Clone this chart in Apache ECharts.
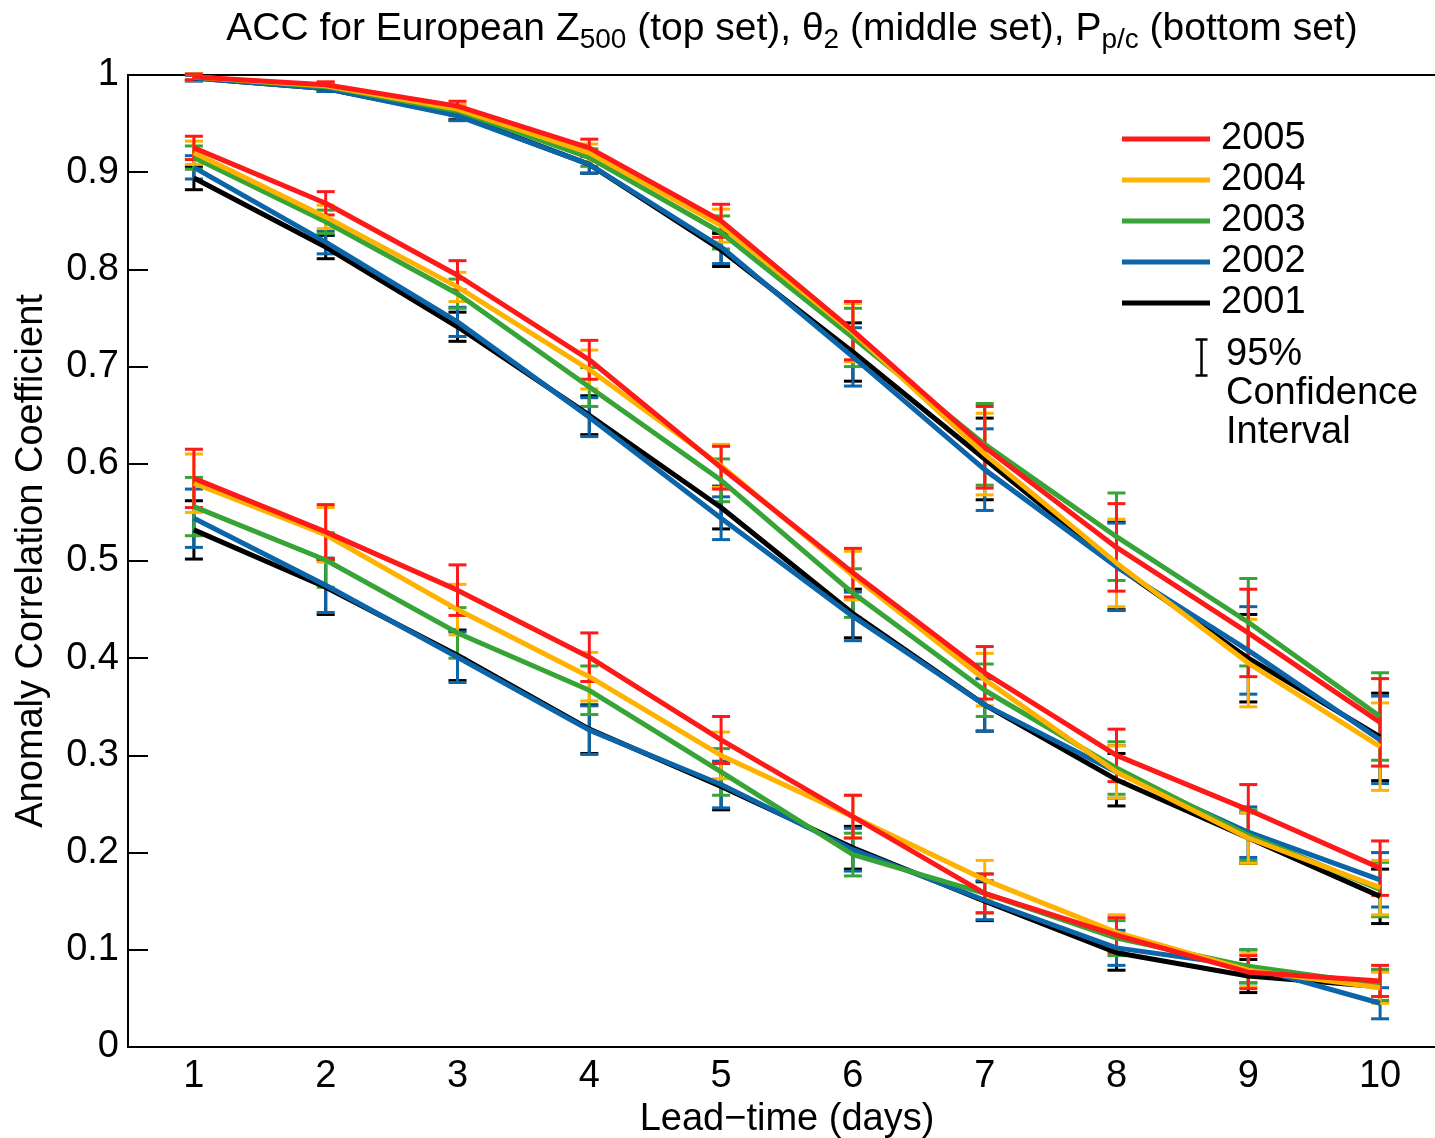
<!DOCTYPE html>
<html>
<head>
<meta charset="utf-8">
<script src="https://cdn.jsdelivr.net/npm/echarts@6/dist/echarts.min.js"></script>
<style>
  html, body { margin: 0; padding: 0; background: #fff; }
  #main { width: 1435px; height: 1138px; }
</style>
</head>
<body>
<div id="main"></div>
<script>
// lead time categories
var leadDays = ['1', '2', '3', '4', '5', '6', '7', '8', '9', '10'];
var years = ['2005', '2004', '2003', '2002', '2001'];
var yearColors = {
  '2005': '#ff1a1a',
  '2004': '#ffb300',
  '2003': '#36a436',
  '2002': '#0b65a8',
  '2001': '#000000'
};

// Z500 (top set)
var z500_2005 = [0.998, 0.990, 0.968, 0.925, 0.850, 0.737, 0.617, 0.514, 0.426, 0.334];
var z500_2004 = [0.998, 0.989, 0.965, 0.920, 0.845, 0.735, 0.610, 0.498, 0.395, 0.309];
var z500_2003 = [0.998, 0.988, 0.963, 0.915, 0.838, 0.730, 0.620, 0.525, 0.437, 0.340];
var z500_2002 = [0.997, 0.986, 0.958, 0.908, 0.823, 0.710, 0.594, 0.494, 0.408, 0.316];
var z500_2001 = [0.997, 0.986, 0.959, 0.908, 0.820, 0.715, 0.605, 0.495, 0.400, 0.319];
var z500Err = [0.003, 0.003, 0.005, 0.009, 0.017, 0.030, 0.042, 0.045, 0.045, 0.045];

// theta2 (middle set)
var theta_2005 = [0.925, 0.868, 0.794, 0.707, 0.596, 0.488, 0.385, 0.300, 0.244, 0.184];
var theta_2004 = [0.920, 0.854, 0.782, 0.697, 0.598, 0.485, 0.378, 0.283, 0.215, 0.164];
var theta_2003 = [0.915, 0.849, 0.775, 0.679, 0.583, 0.467, 0.367, 0.287, 0.218, 0.162];
var theta_2002 = [0.905, 0.828, 0.746, 0.648, 0.544, 0.443, 0.352, 0.283, 0.221, 0.172];
var theta_2001 = [0.894, 0.823, 0.741, 0.650, 0.555, 0.446, 0.352, 0.275, 0.215, 0.155];
var thetaErr = [0.012, 0.012, 0.015, 0.020, 0.022, 0.025, 0.027, 0.027, 0.026, 0.028];

// Pp/c (bottom set)
var ppc_2005 = [0.585, 0.530, 0.470, 0.401, 0.316, 0.237, 0.158, 0.115, 0.077, 0.068];
var ppc_2004 = [0.580, 0.527, 0.450, 0.381, 0.300, 0.237, 0.172, 0.118, 0.079, 0.061];
var ppc_2003 = [0.556, 0.501, 0.426, 0.367, 0.283, 0.198, 0.158, 0.112, 0.083, 0.064];
var ppc_2002 = [0.544, 0.475, 0.401, 0.326, 0.270, 0.203, 0.151, 0.102, 0.083, 0.045];
var ppc_2001 = [0.532, 0.473, 0.403, 0.327, 0.268, 0.205, 0.150, 0.097, 0.073, 0.062];
var ppcErr = [0.030, 0.028, 0.026, 0.025, 0.024, 0.022, 0.020, 0.018, 0.017, 0.016];

var sets = [
  { values: { '2005': z500_2005, '2004': z500_2004, '2003': z500_2003, '2002': z500_2002, '2001': z500_2001 }, err: z500Err },
  { values: { '2005': theta_2005, '2004': theta_2004, '2003': theta_2003, '2002': theta_2002, '2001': theta_2001 }, err: thetaErr },
  { values: { '2005': ppc_2005, '2004': ppc_2004, '2003': ppc_2003, '2002': ppc_2002, '2001': ppc_2001 }, err: ppcErr }
];

var FONT = 'Liberation Sans';
var FS = 38;

// error bar drawing
function errorBarItem(params, api) {
  var x = api.value(0);
  var v = api.value(1);
  var e = api.value(2);
  var hi = api.coord([x, v + e]);
  var lo = api.coord([x, v - e]);
  var cap = 9;
  var st = { stroke: api.visual('color'), lineWidth: 3 };
  return {
    type: 'group',
    children: [
      { type: 'line', shape: { x1: hi[0], y1: hi[1], x2: lo[0], y2: lo[1] }, style: st },
      { type: 'line', shape: { x1: hi[0] - cap, y1: hi[1], x2: hi[0] + cap, y2: hi[1] }, style: st },
      { type: 'line', shape: { x1: lo[0] - cap, y1: lo[1], x2: lo[0] + cap, y2: lo[1] }, style: st }
    ]
  };
}

var series = [];
// draw from 2001 up to 2005 so red is on top
years.slice().reverse().forEach(function (yr) {
  sets.forEach(function (s) {
    var vals = s.values[yr];
    series.push({
      name: yr,
      type: 'line',
      data: vals,
      symbol: 'none',
      color: yearColors[yr],
      lineStyle: { width: 5, color: yearColors[yr] },
      animation: false
    });
    series.push({
      name: yr,
      type: 'custom',
      renderItem: errorBarItem,
      color: yearColors[yr],
      encode: { x: 0, y: 1 },
      data: vals.map(function (v, i) { return [i, v, s.err[i]]; }),
      animation: false
    });
  });
});

var chart = echarts.init(document.getElementById('main'));
chart.setOption({
  backgroundColor: '#fff',
  animation: false,
  title: {
    text: '{n|ACC for European Z}{s|500}{n| (top set), θ}{s|2}{n| (middle set), P}{s|p/c}{n| (bottom set)}',
    left: 787,
    textAlign: 'center',
    top: 2,
    textStyle: {
      rich: {
        n: { fontFamily: FONT, fontSize: 39, fontWeight: 'normal', color: '#000', lineHeight: 44 },
        s: { fontFamily: FONT, fontSize: 28, fontWeight: 'normal', color: '#000', padding: [22, 0, 0, 0], lineHeight: 44 }
      }
    }
  },
  legend: {
    data: years,
    orient: 'vertical',
    left: 1117,
    top: 115,
    icon: 'rect',
    itemWidth: 88,
    itemHeight: 5,
    itemGap: 3,
    textStyle: { fontFamily: FONT, fontSize: FS, lineHeight: 38, color: '#000', padding: [0, 0, 0, 6] }
  },
  grid: {
    left: 128,
    right: -11,
    top: 75,
    bottom: 91,
    outerBoundsMode: 'none',
    show: true,
    borderColor: '#000',
    borderWidth: 2
  },
  xAxis: {
    type: 'category',
    data: leadDays,
    boundaryGap: true,
    name: 'Lead−time (days)',
    nameLocation: 'middle',
    nameGap: 50,
    nameTextStyle: { fontFamily: FONT, fontSize: FS, color: '#000' },
    axisLine: { lineStyle: { color: '#000', width: 2 } },
    axisTick: { inside: true, alignWithLabel: true, length: 18, lineStyle: { color: '#000', width: 2 } },
    axisLabel: { fontFamily: FONT, fontSize: FS, color: '#000', margin: 11 },
    splitLine: { show: false }
  },
  yAxis: {
    type: 'value',
    min: 0,
    max: 1,
    interval: 0.1,
    name: 'Anomaly Correlation Coefficient',
    nameLocation: 'middle',
    nameGap: 77,
    nameTextStyle: { fontFamily: FONT, fontSize: FS, color: '#000' },
    axisLine: { show: true, lineStyle: { color: '#000', width: 2 } },
    axisTick: { show: true, inside: true, length: 20, lineStyle: { color: '#000', width: 2 } },
    axisLabel: { fontFamily: FONT, fontSize: FS, color: '#000', margin: 9 },
    splitLine: { show: false }
  },
  graphic: [
    {
      type: 'group',
      left: 1193,
      top: 337,
      children: [
        { type: 'line', shape: { x1: 7, y1: 0, x2: 7, y2: 36 }, style: { stroke: '#000', lineWidth: 2.5 } },
        { type: 'line', shape: { x1: 1, y1: 0, x2: 13, y2: 0 }, style: { stroke: '#000', lineWidth: 2.5 } },
        { type: 'line', shape: { x1: 1, y1: 36, x2: 13, y2: 36 }, style: { stroke: '#000', lineWidth: 2.5 } }
      ]
    },
    {
      type: 'text',
      left: 1226,
      top: 335,
      style: {
        text: '95%\nConfidence\nInterval',
        font: FS + 'px "Liberation Sans"',
        lineHeight: 39,
        fill: '#000'
      }
    }
  ],
  series: series
});
</script>
</body>
</html>
